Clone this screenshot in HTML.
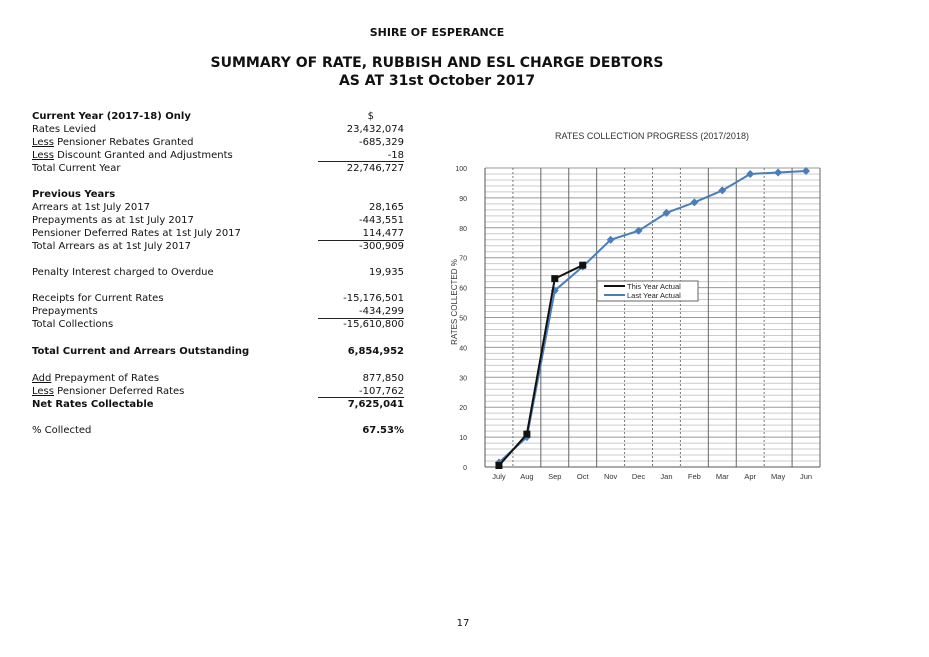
<!DOCTYPE html>
<html><head><meta charset="utf-8"><style>
body{margin:0;width:929px;height:657px;background:#fff;position:relative;font-family:"DejaVu Sans","Liberation Sans",sans-serif;color:#111;overflow:hidden}
.a{position:absolute;white-space:nowrap}
.h{font-weight:bold;left:0;width:874px;text-align:center}
.r{position:absolute;left:32px;width:372px;height:13px;font-size:10px;line-height:13px}
.r .v{position:absolute;right:0;top:0}
.b{font-weight:bold}
u{text-decoration:underline}
.ul{position:absolute;left:318px;width:86px;height:1px;background:#222}
</style></head><body>
<div class="a h" style="top:26px;font-size:11px">SHIRE OF ESPERANCE</div>
<div class="a h" style="top:55px;font-size:14px">SUMMARY OF RATE, RUBBISH AND ESL CHARGE DEBTORS</div>
<div class="a h" style="top:73px;font-size:14px">AS AT 31st October 2017</div>

<div>
<div class="r b" style="top:110px">Current Year (2017-18) Only<span class="v" style="font-weight:normal;right:30px">$</span></div>
<div class="r" style="top:123px">Rates Levied<span class="v">23,432,074</span></div>
<div class="r" style="top:136px"><u>Less</u> Pensioner Rebates Granted<span class="v">-685,329</span></div>
<div class="r" style="top:149px"><u>Less</u> Discount Granted and Adjustments<span class="v">-18</span></div>
<div class="ul" style="top:161px"></div>
<div class="r" style="top:162px">Total Current Year<span class="v">22,746,727</span></div>
<div class="r b" style="top:188px">Previous Years</div>
<div class="r" style="top:201px">Arrears at 1st July 2017<span class="v">28,165</span></div>
<div class="r" style="top:214px">Prepayments as at 1st July 2017<span class="v">-443,551</span></div>
<div class="r" style="top:227px">Pensioner Deferred Rates at 1st July 2017<span class="v">114,477</span></div>
<div class="ul" style="top:240px"></div>
<div class="r" style="top:240px">Total Arrears as at 1st July 2017<span class="v">-300,909</span></div>
<div class="r" style="top:266px">Penalty Interest charged to Overdue<span class="v">19,935</span></div>
<div class="r" style="top:292px">Receipts for Current Rates<span class="v">-15,176,501</span></div>
<div class="r" style="top:305px">Prepayments<span class="v">-434,299</span></div>
<div class="ul" style="top:318px"></div>
<div class="r" style="top:318px">Total Collections<span class="v">-15,610,800</span></div>
<div class="r b" style="top:345px">Total Current and Arrears Outstanding<span class="v">6,854,952</span></div>
<div class="r" style="top:372px"><u>Add</u> Prepayment of Rates<span class="v">877,850</span></div>
<div class="r" style="top:385px"><u>Less</u> Pensioner Deferred Rates<span class="v">-107,762</span></div>
<div class="ul" style="top:397px"></div>
<div class="r b" style="top:398px">Net Rates Collectable<span class="v">7,625,041</span></div>
<div class="r" style="top:424px">% Collected<span class="v b">67.53%</span></div>
</div>

<svg id="chart" class="a" style="left:0;top:0" width="929" height="657" font-family="Liberation Sans, sans-serif"></svg>
<div class="a" style="left:450px;top:618px;width:26px;text-align:center;font-size:10px">17</div>

<script>
const categories=["July","Aug","Sep","Oct","Nov","Dec","Jan","Feb","Mar","Apr","May","Jun"];
const thisYear=[0.5,11,63,67.5];
const lastYear=[1.5,10,59,67,76,79,85,88.5,92.5,98,98.5,99];
const yTicks=[0,10,20,30,40,50,60,70,80,90,100];
const L=485,R=820,T=168,B=467;
const bw=(R-L)/categories.length;
const x=i=>L+bw*(i+0.5);
const y=v=>B-(v/100)*(B-T);
const svg=document.getElementById('chart');
const NS='http://www.w3.org/2000/svg';
function mk(t,a){const e=document.createElementNS(NS,t);for(const k in a)e.setAttribute(k,a[k]);svg.appendChild(e);return e;}
let t=mk('text',{x:652,y:139,'font-size':9,'text-anchor':'middle',fill:'#333'});


t.textContent='RATES COLLECTION PROGRESS (2017/2018)';
for(let v=0;v<=100;v+=2){const g=mk('line',{x1:L,x2:R,y1:y(v),y2:y(v),stroke:v%10?'#ccc':'#999','stroke-width':1});

}
const solid=[0,1,1,1,0,0,0,1,1,0,1,1];
for(let i=1;i<=categories.length;i++){const g=mk('line',{x1:L+bw*i,x2:L+bw*i,y1:T,y2:B,stroke:solid[i-1]?'#666':'#777','stroke-width':1,'stroke-dasharray':solid[i-1]?'':'2,2'});

}
let ax=mk('line',{x1:L,x2:L,y1:T,y2:B,stroke:'#555'});


ax=mk('line',{x1:L,x2:R,y1:B,y2:B,stroke:'#555'});


yTicks.forEach(v=>{const e=mk('text',{x:L-18,y:y(v)+3,'font-size':7,'text-anchor':'end',fill:'#333'});


e.textContent=v;});
categories.forEach((c,i)=>{const e=mk('text',{x:x(i),y:B+12,'font-size':7.5,'text-anchor':'middle',fill:'#333'});


e.textContent=c;});
t=mk('text',{x:0,y:0,'font-size':8,'text-anchor':'middle',fill:'#333',transform:'translate(457,302) rotate(-90)'});


t.textContent='RATES COLLECTED %';
function series(arr,col,name,sq){
 const p=mk('polyline',{points:arr.map((v,i)=>x(i)+','+y(v)).join(' '),fill:'none',stroke:col,'stroke-width':2});
 
 
 arr.forEach((v,i)=>{let m;
  if(sq)m=mk('rect',{x:x(i)-3.5,y:y(v)-3.5,width:7,height:7,fill:col});
  else m=mk('polygon',{points:`${x(i)},${y(v)-4} ${x(i)+4},${y(v)} ${x(i)},${y(v)+4} ${x(i)-4},${y(v)}`,fill:col});
  
  });
}
series(lastYear,'#4a7ebb','last-year',false);
series(thisYear,'#111','this-year',true);
const lg=mk('rect',{x:597,y:281,width:101,height:20,fill:'#fff',stroke:'#666'});


[['#111','This Year Actual',286],['#4a7ebb','Last Year Actual',295]].forEach(([c,s,yy])=>{
 const l=mk('line',{x1:604,x2:625,y1:yy,y2:yy,stroke:c,'stroke-width':2});
 
 
 const e=mk('text',{x:627,y:yy+3,'font-size':7.5,fill:'#222'});
 
 
 e.textContent=s;});
</script>
</body></html>
